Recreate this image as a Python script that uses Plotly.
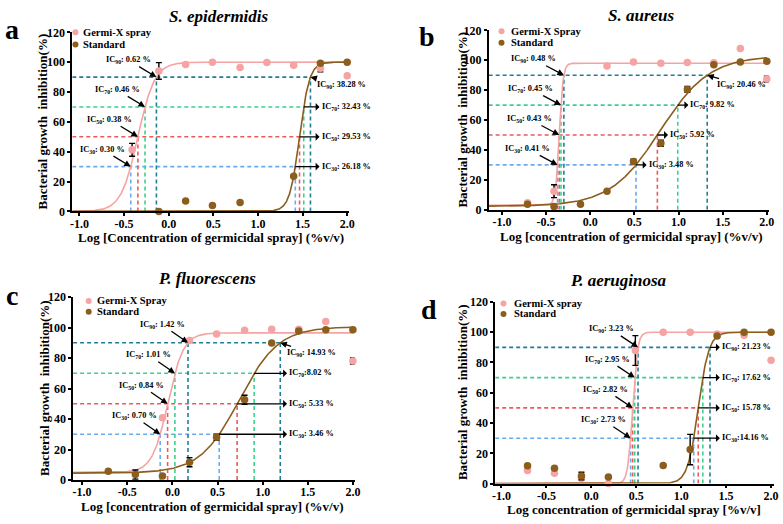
import numpy as np
import plotly.graph_objects as go

# ------------------------------------------------------------------ data
panel_letters = ["a", "b", "c", "d"]
panel_titles = ["S. epidermidis", "S. aureus", "P. fluorescens", "P. aeruginosa"]
pink_names = ["Germi-X spray", "Germi-X Spray", "Germi-X Spray", "Germi-X spray"]
std_name = "Standard"
x_titles = [
    "Log [Concentration of germicidal spray] (%v/v)",
    "Log [concentration of germicidal spray] (%v/v)",
    "Log [concentration of germicidal spray] (%v/v)",
    "Log concentration of germicidal spray [%v/v]",
]
y_title = "Bacterial growth\u00a0 inhibition(%)"
x_tick_vals = [-1.0, -0.5, 0.0, 0.5, 1.0, 1.5, 2.0]
x_tick_text = ["-1.0", "-0.5", "0.0", "0.5", "1.0", "1.5", "2.0"]
y_tick_vals = [0, 20, 40, 60, 80, 100, 120]
ic_levels = [30, 50, 70, 90]

# Panel a - S. epidermidis
a_pink_x = [-0.41, -0.11, 0.19, 0.49, 0.80, 1.10, 1.40, 1.70, 2.00]
a_pink_y = [41.3, 94.1, 98.5, 100.0, 96.5, 99.8, 98.0, 96.0, 90.9]
a_pink_err = [4.3, 5.6, None, None, None, None, None, 2.5, None]
a_std_x = [-0.11, 0.19, 0.49, 0.80, 1.40, 1.70, 2.00]
a_std_y = [0.0, 7.0, 3.9, 5.9, 23.5, 99.3, 100.0]
a_std_err = [None, None, None, None, None, None, None]
a_pink_fit = [0.0, 100.0, -0.345, 4.6]      # bottom, top, logIC50, hill
a_std_fit = [0.0, 100.0, 1.466, 7.8]
a_pink_ic = [": 0.30 %", ": 0.38 %", ": 0.46 %", ": 0.62 %"]
a_std_ic = [": 26.18 %", ": 29.53 %", ": 32.43 %", ": 38.28 %"]

# Panel b - S. aureus
b_pink_x = [-0.71, -0.41, 0.19, 0.49, 0.80, 1.10, 1.40, 1.70, 2.00]
b_pink_y = [4.6, 12.4, 96.1, 98.9, 98.0, 98.5, 98.3, 107.8, 87.4]
b_pink_err = [None, 4.3, None, None, None, None, None, None, 2.0]
b_std_x = [-0.71, -0.41, -0.11, 0.19, 0.49, 0.80, 1.10, 1.40, 1.70, 2.00]
b_std_y = [3.7, 2.2, 3.7, 12.4, 32.3, 44.5, 80.5, 97.0, 98.9, 99.4]
b_std_err = [None, None, None, None, 1.5, 2.0, 2.0, None, None, None]
b_pink_fit = [3.0, 98.0, -0.35, 20.0]
b_std_fit = [2.3, 103.0, 0.79, 1.55]
b_pink_ic = [": 0.41 %", ": 0.43 %", ": 0.45 %", ": 0.48 %"]
b_std_ic = [": 3.48 %", ": 5.92 %", ": 9.82 %", ": 20.46 %"]

# Panel c - P. fluorescens
c_pink_x = [-0.11, 0.19, 0.49, 0.80, 1.10, 1.40, 1.70, 2.00]
c_pink_y = [40.9, 91.5, 95.7, 98.3, 98.9, 98.9, 104.0, 78.1]
c_pink_err = [None, None, None, None, None, None, None, 2.0]
c_std_x = [-0.71, -0.41, -0.11, 0.19, 0.49, 0.80, 1.10, 1.40, 1.70, 2.00]
c_std_y = [5.7, 3.6, 2.6, 11.7, 28.1, 52.6, 89.8, 97.7, 98.5, 98.5]
c_std_err = [None, 3.0, None, 3.0, 2.0, 3.0, None, None, None, None]
c_pink_fit = [5.0, 96.5, -0.05, 5.0]
c_std_fit = [4.5, 100.5, 0.74, 2.0]
c_pink_ic = [": 0.70 %", ": 0.84 %", ": 1.01 %", ": 1.42 %"]
c_std_ic = [": 3.46 %", ": 5.33 %", ":8.02 %", ": 14.93 %"]

# Panel d - P. aeruginosa
d_pink_x = [-0.71, -0.41, -0.11, 0.19, 0.49, 0.80, 1.10, 1.40, 1.70, 2.00]
d_pink_y = [8.6, 6.9, 3.5, 0.0, 87.9, 100.0, 100.0, 98.8, 97.9, 81.4]
d_pink_err = [None, None, None, None, 9.8, None, None, None, None, None]
d_std_x = [-0.71, -0.41, -0.11, 0.19, 0.80, 1.10, 1.40, 1.70, 2.00]
d_std_y = [11.8, 10.1, 5.0, 4.3, 12.0, 22.5, 97.5, 99.9, 100.0]
d_std_err = [None, None, 2.5, None, None, 10.0, None, None, None]
d_pink_fit = [0.0, 100.0, 0.46, 16.0]
d_std_fit = [0.0, 100.0, 1.19, 7.3]
d_pink_ic = [": 2.73 %", ": 2.82 %", ": 2.95 %", ": 3.23 %"]
d_std_ic = [":14.16 %", ": 15.78 %", ": 17.62 %", ": 21.23 %"]

# ------------------------------------------------------------------ style / layout
W, H = 783, 524
FONT = "Liberation Serif, Times New Roman, Tinos, DejaVu Serif, serif"
PINK = "#f5a3a3"
BROWN = "#8b5e1e"
LEVEL_COLORS = ["#6aaaf0", "#ee5a5a", "#3ccf8e", "#1f7f95"]


def px(x, y):
    return x / W, 1 - y / H


panels = [
    dict(data=(a_pink_x, a_pink_y, a_pink_err, a_std_x, a_std_y, a_std_err, a_pink_fit, a_std_fit, a_pink_ic, a_std_ic),
         xdom=[70.1, 350.0], ydom=[26.0, 210.0], xrange=[-1.08, 2.02],
         pink_off=(-28, -17), std_mode="fixed", std_end=1.69, std90_off=(31, 8),
         title=(218.3, 9.5), letter=(9, 23.6), xtitle=(210, 237), ytitle=(40, 118),
         legend=(73.3, 26.0, 38.6, 79.3)),
    dict(data=(b_pink_x, b_pink_y, b_pink_err, b_std_x, b_std_y, b_std_err, b_pink_fit, b_std_fit, b_pink_ic, b_std_ic),
         xdom=[491.3, 774.5], ydom=[24.0, 208.3], xrange=[-1.15, 2.02],
         pink_off=(-30, -16), std_mode="short", std_end=0.12, std90_off=(34, 10),
         title=(646, 8.5), letter=(429, 30), xtitle=(635, 235.5), ytitle=(465, 116),
         legend=(504.3, 25.0, 36.7, 512.0)),
    dict(data=(c_pink_x, c_pink_y, c_pink_err, c_std_x, c_std_y, c_std_err, c_pink_fit, c_std_fit, c_pink_ic, c_std_ic),
         xdom=[70.9, 355.8], ydom=[298.0, 486.0], xrange=[-1.1, 2.02],
         pink_off=(-26, -18), std_mode="fixed", std_end=1.27, std90_off=(31, 10),
         title=(206.7, 278.5), letter=(9.5, 296), xtitle=(211.7, 513), ytitle=(42, 392),
         legend=(86.7, 302.0, 313.0, 93.3)),
    dict(data=(d_pink_x, d_pink_y, d_pink_err, d_std_x, d_std_y, d_std_err, d_pink_fit, d_std_fit, d_pink_ic, d_std_ic),
         xdom=[497.9, 779.7], ydom=[303.0, 489.7], xrange=[-1.07, 2.03],
         pink_off=(-27, -18), std_mode="fixed", std_end=1.43, std90_off=None,
         title=(623, 281), letter=(430.5, 310.6), xtitle=(638.5, 516), ytitle=(465, 396),
         legend=(506.3, 304.7, 315.3, 514.7)),
]


def logistic(x, p):
    b, t, c, h = p
    return b + (t - b) / (1 + 10 ** (h * (c - x)))


def inv_logistic(y, p):
    b, t, c, h = p
    return c + np.log10((y - b) / (t - y)) / h


fig = go.Figure()
annotations = []
shapes = []
layout_axes = {}

ic_font = dict(family=FONT, size=8.3, color="black", weight="bold")
tick_font = dict(family=FONT, size=12, color="black", weight="bold")

for i, pan in enumerate(panels):
    (pxs, pys, perr, sxs, sys_, serr, pfit, sfit, pic, sic) = pan["data"]
    n = "" if i == 0 else str(i + 1)
    xa, ya = "x" + n, "y" + n
    x0 = pan["xrange"][0]

    # axes
    layout_axes["xaxis" + n] = dict(
        domain=[pan["xdom"][0] / W, pan["xdom"][1] / W], range=pan["xrange"], anchor=ya,
        tickvals=x_tick_vals, ticktext=x_tick_text, showline=True, linecolor="black", linewidth=1.6,
        ticks="outside", ticklen=3, tickwidth=1.6, tickcolor="black", showgrid=False, zeroline=False,
        ticklabelstandoff=-3, tickfont=tick_font,
    )
    layout_axes["yaxis" + n] = dict(
        domain=[1 - pan["ydom"][1] / H, 1 - pan["ydom"][0] / H], range=[0, 120], anchor=xa,
        tickvals=y_tick_vals, showline=True, linecolor="black", linewidth=1.6,
        ticks="outside", ticklen=3, tickwidth=1.6, tickcolor="black", showgrid=False, zeroline=False,
        tickfont=tick_font,
    )

    # dashed IC guide lines
    for lev, col in zip(ic_levels, LEVEL_COLORS):
        xp = float(inv_logistic(lev, pfit))
        xs = float(inv_logistic(lev, sfit))
        dash = dict(color=col, width=1.6, dash="4px,3px")
        fig.add_trace(go.Scatter(x=[x0, xs], y=[lev, lev], mode="lines", line=dash,
                                 xaxis=xa, yaxis=ya, showlegend=False, hoverinfo="skip"))
        for xv in (xp, xs):
            fig.add_trace(go.Scatter(x=[xv, xv], y=[0, lev], mode="lines", line=dash,
                                     xaxis=xa, yaxis=ya, showlegend=False, hoverinfo="skip"))

    # fitted curves
    xc = np.linspace(x0, 2.0, 500)
    fig.add_trace(go.Scatter(x=xc, y=logistic(xc, pfit), mode="lines",
                             line=dict(color=PINK, width=1.6), xaxis=xa, yaxis=ya,
                             showlegend=False, hoverinfo="skip"))
    fig.add_trace(go.Scatter(x=xc, y=logistic(xc, sfit), mode="lines",
                             line=dict(color=BROWN, width=1.6), xaxis=xa, yaxis=ya,
                             showlegend=False, hoverinfo="skip"))

    # data points
    fig.add_trace(go.Scatter(x=pxs, y=pys, mode="markers", name=pink_names[i],
                             marker=dict(color=PINK, size=7.5),
                             error_y=dict(type="data", array=perr, color="black", thickness=1.4, width=3),
                             xaxis=xa, yaxis=ya, showlegend=False, cliponaxis=False))
    fig.add_trace(go.Scatter(x=sxs, y=sys_, mode="markers", name=std_name,
                             marker=dict(color=BROWN, size=7.5),
                             error_y=dict(type="data", array=serr, color="black", thickness=1.4, width=3),
                             xaxis=xa, yaxis=ya, showlegend=False, cliponaxis=False))

    # IC annotations
    for k, lev in enumerate(ic_levels):
        xp = float(inv_logistic(lev, pfit))
        xs = float(inv_logistic(lev, sfit))
        annotations.append(dict(
            x=xp, y=lev, xref=xa, yref=ya, ax=pan["pink_off"][0], ay=pan["pink_off"][1],
            text="IC<sub>%d</sub>%s" % (lev, pic[k]), showarrow=True, arrowhead=2,
            arrowsize=1, arrowwidth=1.3, arrowcolor="black", font=ic_font))
        std_text = "IC<sub>%d</sub>%s" % (lev, sic[k])
        if lev == 90 and pan["std90_off"] is not None:
            annotations.append(dict(
                x=xs, y=lev, xref=xa, yref=ya, ax=pan["std90_off"][0], ay=pan["std90_off"][1],
                text=std_text, showarrow=True, arrowhead=2, arrowsize=1, arrowwidth=1.3,
                arrowcolor="black", font=ic_font))
        else:
            if pan["std_mode"] == "fixed":
                xend = pan["std_end"]
            else:
                xend = xs + pan["std_end"]
            # arrow runs from the curve to the label, head at the label side
            annotations.append(dict(
                x=xs, y=lev, xref=xa, yref=ya, ax=xend, ay=lev, axref=xa, ayref=ya,
                xanchor="left", yanchor="middle",
                text=std_text, showarrow=True, arrowhead=2, arrowside="start",
                arrowsize=1, arrowwidth=1.3, arrowcolor="black", font=ic_font))

    # titles and letters
    tx, ty = px(*pan["title"])
    annotations.append(dict(x=tx, y=ty, xref="paper", yref="paper", showarrow=False,
                            text="<i>%s</i>" % panel_titles[i], xanchor="center", yanchor="middle",
                            font=dict(family=FONT, size=17, color="black", weight="bold")))
    lx, ly = px(*pan["letter"])
    annotations.append(dict(x=lx, y=ly, xref="paper", yref="paper", showarrow=False,
                            text=panel_letters[i], xanchor="center", yanchor="middle",
                            font=dict(family=FONT, size=28, color="black", weight="bold")))
    axx, axy = px(*pan["xtitle"])
    annotations.append(dict(x=axx, y=axy, xref="paper", yref="paper", showarrow=False,
                            text=x_titles[i], xanchor="center", yanchor="middle", borderpad=0,
                            font=dict(family=FONT, size=13, color="black", weight="bold")))
    ayx, ayy = px(*pan["ytitle"])
    annotations.append(dict(x=ayx, y=ayy, xref="paper", yref="paper", showarrow=False,
                            text=y_title, textangle=-90, xanchor="center", yanchor="middle",
                            font=dict(family=FONT, size=13, color="black", weight="bold")))

    # compact legend
    mx, y1, y2, tx0 = pan["legend"]
    for yy, col, name in ((y1, PINK, pink_names[i]), (y2, BROWN, std_name)):
        cx, cy = px(mx, yy)
        shapes.append(dict(type="circle", xref="paper", yref="paper", xsizemode="pixel",
                           ysizemode="pixel", xanchor=cx, yanchor=cy, x0=-3, x1=3, y0=-3, y1=3,
                           fillcolor=col, line=dict(width=0)))
        ttx, tty = px(tx0, yy)
        annotations.append(dict(x=ttx, y=tty, xref="paper", yref="paper", showarrow=False,
                                text=name, xanchor="left", yanchor="middle",
                                font=dict(family=FONT, size=10.5, color="black", weight="bold")))

fig.update_layout(
    width=W, height=H, autosize=False,
    margin=dict(l=0, r=0, t=0, b=0, pad=0),
    paper_bgcolor="white", plot_bgcolor="white",
    font=dict(family=FONT, color="black"),
    showlegend=False,
    annotations=annotations, shapes=shapes,
    **layout_axes,
)

fig.write_html("out.html", config={"displayModeBar": False},
               post_script="document.body.style.margin='0';document.body.style.padding='0';")
